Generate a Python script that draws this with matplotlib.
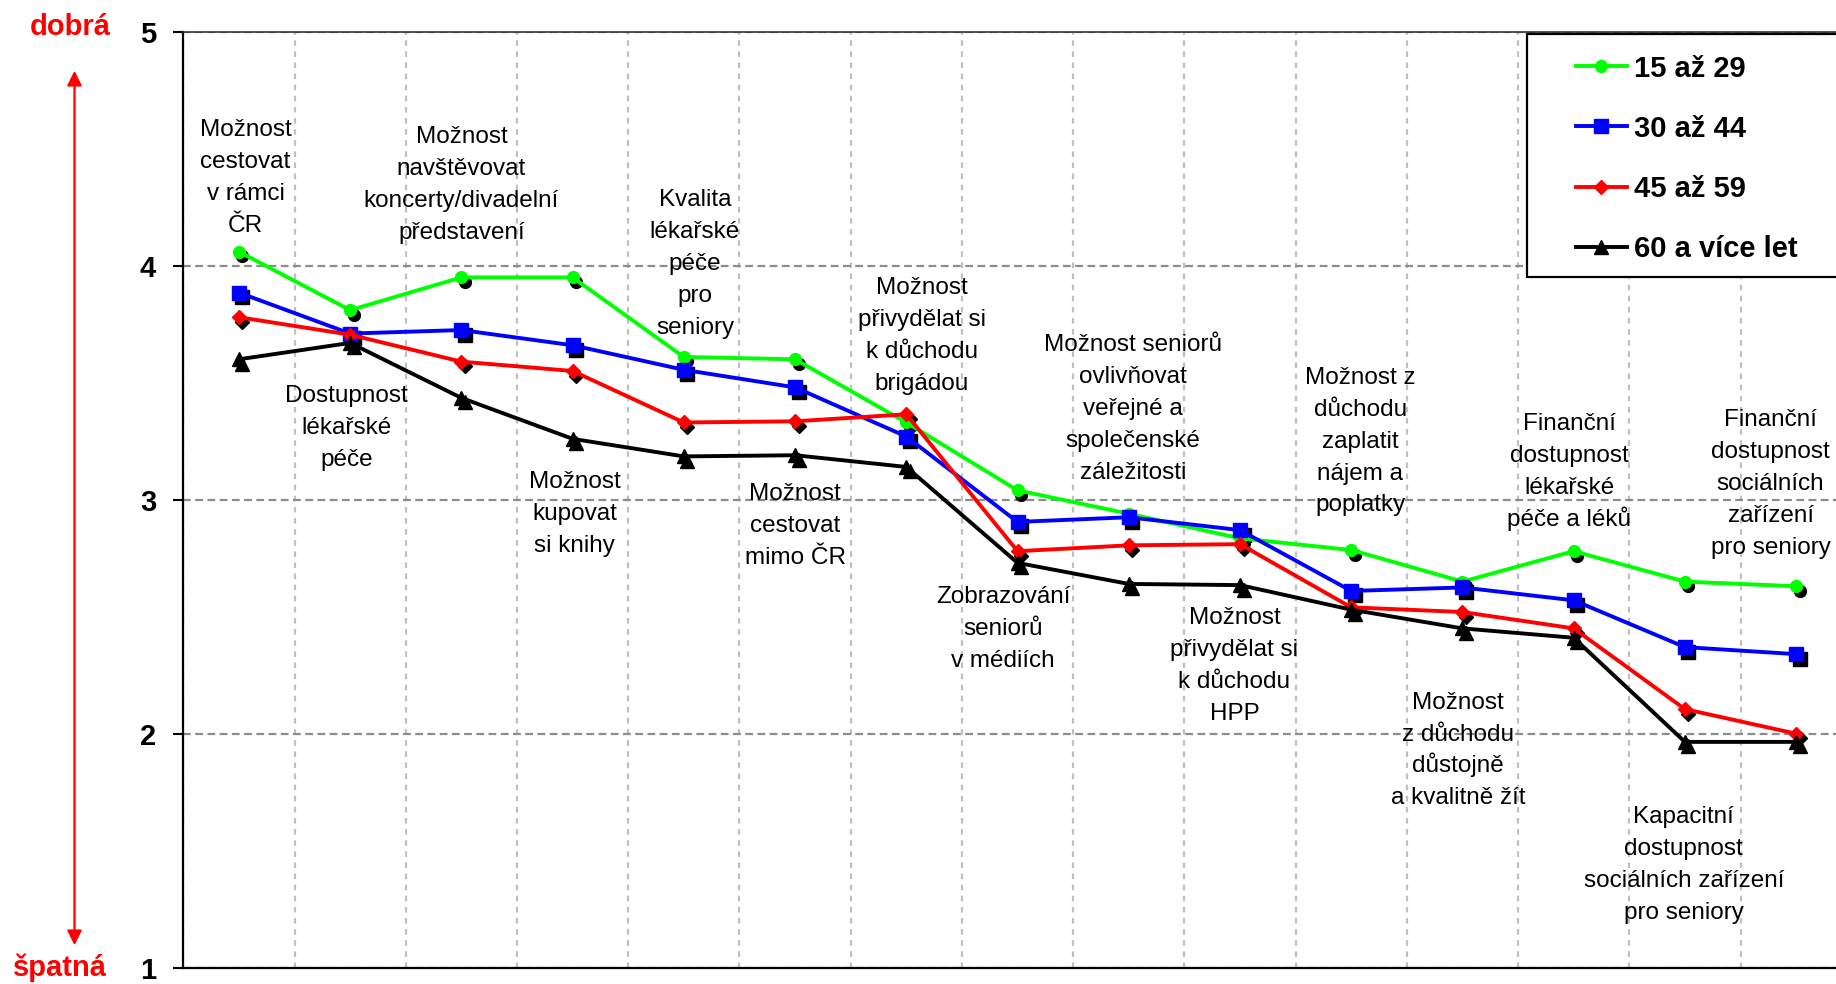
import matplotlib
matplotlib.use('Agg')
import matplotlib.pyplot as plt
from matplotlib.transforms import offset_copy
from matplotlib.patches import Rectangle, FancyArrowPatch

plt.rcParams['font.family'] = ['Liberation Sans', 'DejaVu Sans']

# categories (x axis, no tick labels - written as annotations)
categories = [
    'Možnost\ncestovat\nv rámci\nČR',
    'Dostupnost\nlékařské\npéče',
    'Možnost\nnavštěvovat\nkoncerty/divadelní\npředstavení',
    'Možnost\nkupovat\nsi knihy',
    'Kvalita\nlékařské\npéče\npro\nseniory',
    'Možnost\ncestovat\nmimo ČR',
    'Možnost\npřivydělat si\nk důchodu\nbrigádou',
    'Zobrazování\nseniorů\nv médiích',
    'Možnost seniorů\novlivňovat\nveřejné a\nspolečenské\nzáležitosti',
    'Možnost\npřivydělat si\nk důchodu\nHPP',
    'Možnost z\ndůchodu\nzaplatit\nnájem a\npoplatky',
    'Možnost\nz důchodu\ndůstojně\na kvalitně žít',
    'Finanční\ndostupnost\nlékařské\npéče a léků',
    'Kapacitní\ndostupnost\nsociálních zařízení\npro seniory',
    'Finanční\ndostupnost\nsociálních\nzařízení\npro seniory',
]
age_groups = ['15 až 29', '30 až 44', '45 až 59', '60 a více let']
g15_29 = [4.06, 3.81, 3.95, 3.95, 3.61, 3.60, 3.33, 3.04, 2.94, 2.835, 2.785, 2.65, 2.78, 2.65, 2.63]
g30_44 = [3.885, 3.71, 3.725, 3.66, 3.555, 3.48, 3.27, 2.905, 2.925, 2.87, 2.61, 2.625, 2.57, 2.37, 2.34]
g45_59 = [3.78, 3.705, 3.59, 3.55, 3.33, 3.335, 3.365, 2.78, 2.805, 2.81, 2.54, 2.52, 2.45, 2.105, 2.0]
g60 = [3.60, 3.67, 3.435, 3.26, 3.185, 3.19, 3.14, 2.73, 2.64, 2.635, 2.53, 2.45, 2.41, 1.965, 1.965]
y_ticks = [1, 2, 3, 4, 5]

# where the category texts sit (data coords, centre of the text block)
label_x = [0.06, 0.97, 2.0, 3.02, 4.1, 5.0, 6.14, 6.87, 8.04, 8.95, 10.08, 10.96, 11.96, 12.99, 13.77]
label_y = [4.385, 3.32, 4.355, 2.95, 4.02, 2.90, 3.71, 2.46, 3.40, 2.30, 3.26, 1.94, 3.13, 1.45, 3.08]

W, H = 1836, 984
fig = plt.figure(figsize=(W / 100, H / 100), dpi=100)
ax = fig.add_axes([183.3 / W, 1 - 967.7 / H, (1851.8 - 183.3) / W, (967.7 - 31.7) / H])

x = list(range(len(categories)))
series = [g15_29, g30_44, g45_59, g60]
colors = ['#00ff00', '#0000ff', '#ff0000', '#000000']
markers = ['o', 's', 'D', '^']
msizes = [8.5, 10.5, 7.5, 9.5]

shadow = offset_copy(ax.transData, fig=fig, x=3.5, y=-4.5, units='dots')
handles = []
for vals, c, m, ms, lab in zip(series, colors, markers, msizes, age_groups):
    ax.plot(x, vals, linestyle='none', marker=m, ms=ms, color='black',
            transform=shadow, zorder=2)
    h, = ax.plot(x, vals, color=c, lw=2.8, marker=m, ms=ms, mec=c, mfc=c,
                 label=lab, zorder=3)
    handles.append(h)

# category texts, one line at a time so the spacing stays even
fs = 17.5
step = 23.0  # points between baselines
for lx, ly, txt in zip(label_x, label_y, categories):
    lines = txt.split('\n')
    n = len(lines)
    for i, line in enumerate(lines):
        dy = ((n - 1) / 2 - i) * step - 0.36 * fs
        tr = offset_copy(ax.transData, fig=fig, x=0, y=dy, units='points')
        ax.text(lx, ly, line, ha='center', va='baseline', fontsize=fs,
                transform=tr, zorder=4)

ax.set_xlim(-0.5, 14.5)
ax.set_ylim(1, 5)
ax.set_yticks(y_ticks)
ax.set_yticklabels([str(t) for t in y_ticks], fontsize=21, fontweight='bold')
ax.set_xticks([])
ax.set_xticks([i + 0.5 for i in range(-1, 15)], minor=True)
ax.tick_params(axis='y', direction='out', length=7.5, width=1.5, pad=12)
ax.tick_params(axis='x', which='both', length=0, labelbottom=False)
ax.grid(axis='y', which='major', color='#8c8c8c', linestyle=(0, (3.5, 2)), lw=1.6)
ax.grid(axis='x', which='minor', color='#c0c0c0', linestyle=(0, (2.5, 2.5)), lw=1.6)
ax.set_axisbelow(True)
for s in ['left', 'bottom']:
    ax.spines[s].set_linewidth(1.6)
ax.spines['top'].set_linewidth(1.2)
ax.spines['top'].set_color('#333333')
ax.spines['right'].set_visible(False)

# legend with a hand drawn frame
fig.patches.append(Rectangle((1527 / W, 1 - 277 / H), (1845 - 1527) / W, (277 - 34) / H,
                             transform=fig.transFigure, fill=True, facecolor='white',
                             edgecolor='black', lw=1.6, zorder=5))
leg = fig.legend(handles=handles, loc='upper left', bbox_to_anchor=(1561 / W, 1 - 40 / H),
                 bbox_transform=fig.transFigure, frameon=False, borderpad=0,
                 handlelength=1.75, handletextpad=0.27, labelspacing=1.1,
                 prop={'size': 21, 'weight': 'bold'})
leg.set_zorder(6)

# good / bad arrow on the left
fig.text(70 / W, 1 - 27 / H, 'dobrá', color='red', fontsize=21, fontweight='bold',
         ha='center', va='center')
fig.text(60 / W, 1 - 968 / H, 'špatná', color='red', fontsize=21, fontweight='bold',
         ha='center', va='center')
fig.add_artist(FancyArrowPatch(
    (74.5 / W, 1 - 68 / H), (74.5 / W, 1 - 948 / H), transform=fig.transFigure,
    arrowstyle='<|-|>', mutation_scale=22, color='red', lw=1.6))

fig.savefig('out.png', dpi=100)
